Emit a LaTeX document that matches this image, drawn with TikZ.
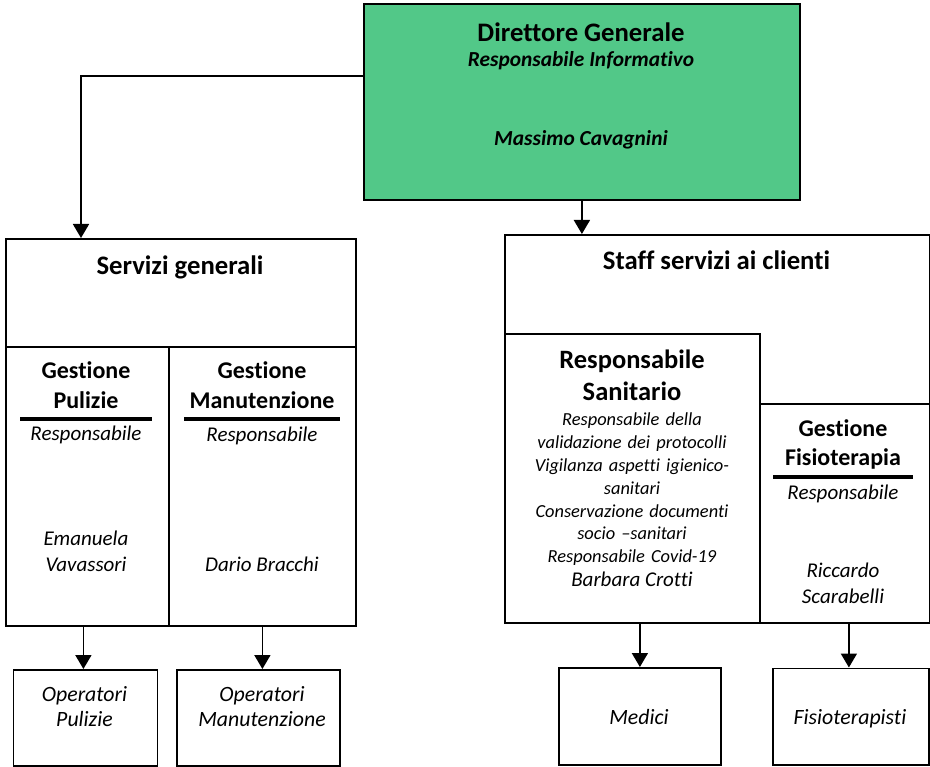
\documentclass[tikz,border=0pt]{standalone}
\usepackage{fontspec}
\setmainfont{Carlito}[Ligatures=CommonOff]
\usetikzlibrary{arrows.meta,positioning}

\definecolor{dgreen}{RGB}{82,200,136}

\begin{document}
\begin{tikzpicture}[
		x=1pt,y=-1pt,
		box/.style={draw,line width=1.8pt,fill=white,inner sep=0,anchor=north west},
		arr/.style={-{Triangle[length=14pt,width=16pt]},line width=1.8pt},
		rule/.style={line width=4pt},
		lab/.style={inner sep=0,anchor=base,align=center},
		multi/.style={lab,text width=#1},
		titolo/.style={font=\fontsize{26.7}{30}\selectfont\bfseries},
		capo/.style={font=\fontsize{24}{30}\selectfont\bfseries},
		capoit/.style={font=\fontsize{21.4}{26}\selectfont\bfseries\itshape},
		ruolo/.style={font=\fontsize{21}{26.5}\selectfont\itshape},
		nota/.style={font=\fontsize{18.4}{22.8}\selectfont\itshape},
		oper/.style={font=\fontsize{21.8}{24.3}\selectfont\itshape}
		]
		\useasboundingbox (0,0) rectangle (930,767);
		
		% --- Direttore Generale
		\node[box,fill=dgreen,minimum width=436pt,minimum height=196pt] (dg) at (363,3) {};
		\node[lab,titolo] (dgt) at (581,42) {Direttore Generale};
		\node[lab,capoit] (dgr) at (581,66.7) {Responsabile Informativo};
		\node[lab,capoit] (dgn) at (581,145.7) {Massimo Cavagnini};
		
		% --- Servizi generali
		\node[box,minimum width=350pt,minimum height=108pt] (sg) at (5,238) {};
		\node[lab,titolo] (sgt) at (180,274.3) {Servizi generali};
		
		\node[box,minimum width=163pt,minimum height=279pt] (pul) at (5,346) {};
		\node[multi=160pt,capo] (pult) at (86,378.3) {Gestione\\Pulizie};
		\draw[rule] (20,419) -- (152,419);
		\node[lab,ruolo] (pulr) at (86,441) {Responsabile};
		\node[multi=160pt,ruolo] (puln) at (86,545) {Emanuela\\Vavassori};
		
		\node[box,minimum width=187pt,minimum height=279pt] (man) at (168,346) {};
		\node[multi=185pt,capo] (mant) at (262,378.3) {Gestione\\Manutenzione};
		\draw[rule] (184,419) -- (340,419);
		\node[lab,ruolo] (manr) at (262,442) {Responsabile};
		\node[lab,ruolo] (mann) at (262,571.7) {Dario Bracchi};
		
		% --- Staff servizi ai clienti
		\node[box,minimum width=425pt,minimum height=170pt] (staff) at (504,234) {};
		\node[lab,titolo] (stafft) at (716.5,270) {Staff servizi ai clienti};
		
		\node[box,minimum width=255pt,minimum height=289pt] (san) at (504,333) {};
		\node[multi=250pt,font=\fontsize{26.5}{32}\selectfont\bfseries] (sant) at (632,368.3) {Responsabile\\Sanitario};
		\node[multi=250pt,nota] (sand) at (632,426) {Responsabile della\\validazione dei protocolli\\Vigilanza aspetti igienico-\\sanitari\\Conservazione documenti\\socio --sanitari\\Responsabile Covid-19};
		\node[lab,font=\fontsize{21}{26}\selectfont\itshape] (sann) at (632,586.7) {Barbara Crotti};
		
		\node[box,minimum width=170pt,minimum height=219pt] (fis) at (759,403) {};
		\node[multi=165pt,font=\fontsize{24}{29.3}\selectfont\bfseries] (fist) at (843,436.7) {Gestione\\Fisioterapia};
		\draw[rule] (773,476.7) -- (913,476.7);
		\node[lab,ruolo] (fisr) at (843,499.3) {Responsabile};
		\node[multi=165pt,font=\fontsize{21}{26}\selectfont\itshape] (fisn) at (843,577.3) {Riccardo\\Scarabelli};
		
		% --- Operatori
		\node[box,minimum width=144pt,minimum height=96pt] (opul) at (12.5,669) {};
		\node[multi=140pt,oper] at (84.5,701.7) {Operatori\\Pulizie};
		\node[box,minimum width=163pt,minimum height=96pt] (oman) at (176,669) {};
		\node[multi=160pt,oper] at (262,701.7) {Operatori\\Manutenzione};
		\node[box,minimum width=162pt,minimum height=97pt] (med) at (558,667) {};
		\node[lab,oper] at (639,724) {Medici};
		\node[box,minimum width=156pt,minimum height=96.5pt] (ofis) at (772,667.5) {};
		\node[lab,oper] at (850,724) {Fisioterapisti};
		
		% --- Collegamenti
		\coordinate (sgin) at (81,238);
		\draw[arr] ([yshift=26pt]dg.west) -| (sgin);
		\draw[arr] (dg.south) -- (dg.south |- staff.north);
		\draw[arr] ([xshift=-2pt]opul.north |- pul.south) -- ([xshift=-2pt]opul.north);
		\draw[arr] (man.south) -- (man.south |- oman.north);
		\draw[arr] (med.north |- san.south) -- (med.north);
		\draw[arr] ([xshift=-2pt]ofis.north |- fis.south) -- ([xshift=-2pt]ofis.north);
		
	\end{tikzpicture}
\end{document}
